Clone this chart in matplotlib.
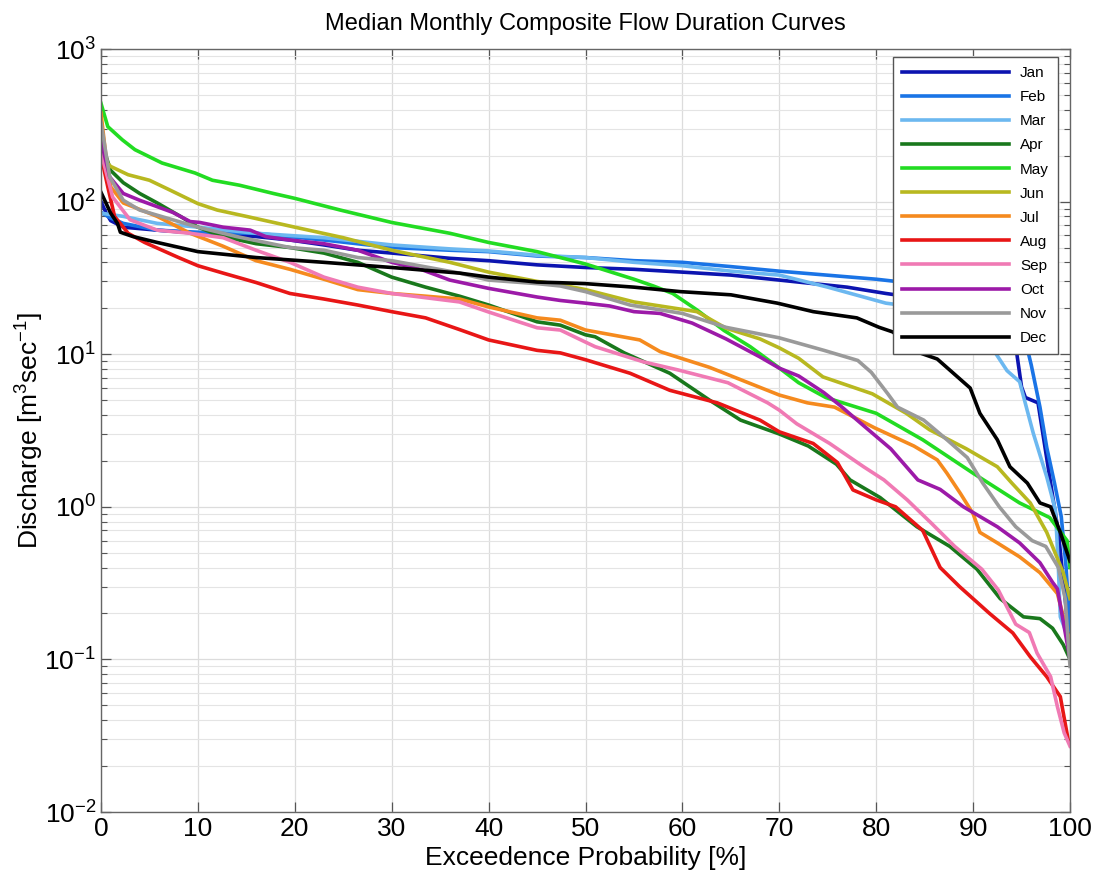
import matplotlib
matplotlib.use("Agg")
import matplotlib.pyplot as plt
from matplotlib.ticker import LogLocator, MultipleLocator, NullFormatter

plt.rcParams['font.family'] = ['Liberation Sans', 'DejaVu Sans']
plt.rcParams['mathtext.fontset'] = 'custom'
plt.rcParams['mathtext.rm'] = 'Liberation Sans'
plt.rcParams['mathtext.it'] = 'Liberation Sans'

# Exceedence probability [%] and median discharge [m3/s] for each month
jan_p = [0, 0.5, 1, 2.3, 5.8, 10, 16, 19.5, 23, 26.5, 30, 36, 40, 45, 50, 55, 60, 65, 70, 77, 81, 83, 94.5, 95, 95.4, 96.7, 97.9, 98.8, 99.5, 100]
jan_q = [100, 85, 75, 68, 65, 62, 59, 56, 52, 48, 46, 42.5, 41, 38.5, 37, 36, 34.5, 33, 30.6, 27.5, 25, 24, 10.2, 6.1, 5.2, 4.8, 1.57, 0.68, 0.25, 0.12]

feb_p = [0, 1, 2.3, 5.8, 10, 16, 23, 30, 36, 40, 45, 50, 55, 60, 65, 70, 80, 82, 90, 95.7, 96, 96.9, 97.6, 98.4, 99.1, 99.6, 100]
feb_q = [85, 78, 72, 65, 63, 62, 56, 50, 48, 47, 44, 43, 41, 40, 37.5, 35, 31, 30, 20, 10.2, 8.5, 4.5, 2.45, 1.43, 0.86, 0.4, 0.155]

mar_p = [0, 2.3, 5.8, 10, 16, 23, 30, 36, 40, 45, 50, 55, 60, 65, 70, 75, 81, 82.5, 92.3, 93.5, 94.8, 96.2, 97.6, 98.5, 98.8, 99, 100]
mar_q = [84, 80, 72, 68, 62, 58, 52, 49, 47.5, 44.5, 43, 40, 38, 35, 33, 27.5, 21.6, 21, 10.2, 7.8, 6.6, 3.05, 1.57, 0.95, 0.4, 0.19, 0.13]

apr_p = [0, 0.5, 1, 2.3, 4, 5.8, 8.2, 10, 12.6, 16, 19.5, 23, 26.5, 30, 33.5, 37, 40, 45, 47.4, 50, 51, 54, 58.7, 62.8, 66, 70, 73, 75.9, 77.3, 80.4, 84.2, 87.6, 90.4, 92.8, 95.2, 96.9, 98.2, 99.3, 100]
apr_q = [250, 200, 160, 133, 113, 98, 80, 68, 59, 53, 50, 46, 40, 32, 27.5, 24, 21, 16.3, 15.5, 13.4, 13, 10.2, 7.5, 5.0, 3.7, 3.0, 2.5, 1.9, 1.5, 1.15, 0.74, 0.55, 0.39, 0.25, 0.19, 0.185, 0.16, 0.125, 0.10]

may_p = [0, 0.7, 2.2, 3.5, 6.3, 9.7, 11.5, 14.3, 17.8, 20, 24.7, 30, 36, 40, 45, 50, 55, 57, 59, 61.5, 64.3, 67, 69.8, 72, 74.8, 80, 84.8, 90, 94.8, 97.9, 99.7, 100]
may_q = [440, 310, 254, 219, 179, 154, 138, 128, 113, 105, 88, 73, 62, 54, 47, 39, 31, 28, 25, 19.5, 14.3, 11.2, 8.3, 6.5, 5.2, 4.1, 2.75, 1.66, 1.06, 0.85, 0.6, 0.4]

jun_p = [0, 0.4, 1, 2.8, 5, 7, 10, 12, 15, 20, 25, 30, 36, 40, 45, 47.4, 50, 55, 61.5, 64.5, 68, 70, 72, 74.5, 79.6, 83.1, 85.5, 89.3, 92.5, 94, 95.9, 97.6, 99.3, 100]
jun_q = [300, 186, 170, 150, 138, 120, 97, 88, 80, 68, 58, 48, 40, 34.5, 30, 28.5, 26.5, 22, 19, 14.8, 12.6, 11, 9.4, 7.1, 5.5, 4.1, 3.2, 2.4, 1.83, 1.43, 1.06, 0.68, 0.37, 0.25]

jul_p = [0, 0.5, 1, 2.3, 5.8, 9.2, 12.6, 16, 19.5, 23, 26.5, 30, 33.5, 37, 40, 45, 47.4, 50, 55.6, 57.7, 62.8, 67.9, 70, 72.9, 75.7, 79.8, 83.9, 86.3, 87.3, 88.7, 90, 90.7, 92.5, 94.8, 96.9, 98.7, 100]
jul_q = [380, 200, 125, 98, 80, 62, 51, 41, 36, 31, 26.5, 25, 24, 23, 20.4, 17.3, 16.7, 14.4, 12.4, 10.4, 8.2, 6.1, 5.4, 4.8, 4.5, 3.3, 2.5, 2.03, 1.66, 1.22, 0.9, 0.68, 0.58, 0.47, 0.37, 0.27, 0.13]

aug_p = [0, 0.7, 1.4, 2.8, 4.5, 8, 10, 12.6, 16, 19.5, 23, 26.5, 30, 33.5, 37, 40, 45, 47.4, 50, 54.6, 58.7, 63.6, 68, 70, 73.5, 76, 77.6, 80, 82, 84.8, 86.6, 88.6, 91.7, 94.1, 95.9, 97.6, 99, 99.8, 100]
aug_q = [200, 125, 80, 62, 54, 43, 38, 34, 29.5, 25, 23, 21, 19, 17.3, 14.5, 12.4, 10.6, 10.2, 9.2, 7.5, 5.8, 4.8, 3.7, 3.1, 2.6, 1.95, 1.29, 1.11, 1.0, 0.7, 0.40, 0.30, 0.20, 0.149, 0.104, 0.077, 0.057, 0.030, 0.028]

sep_p = [0, 1.2, 3, 5.8, 9.2, 12.6, 16, 19.5, 23, 26.5, 30, 37, 40, 45, 47.4, 50, 51, 56, 59.5, 64.7, 68.8, 70, 71.8, 75.2, 78.7, 80.8, 83.2, 85.7, 88.1, 90.9, 92.6, 94.4, 95.8, 96.6, 98, 98.7, 99.4, 100]
sep_q = [210, 107, 76, 65, 62, 58, 48, 40, 32, 27.5, 25, 22, 18.9, 14.9, 14.4, 12, 11.2, 8.9, 7.9, 6.5, 4.8, 4.3, 3.5, 2.6, 1.83, 1.5, 1.11, 0.78, 0.55, 0.39, 0.285, 0.17, 0.15, 0.11, 0.077, 0.049, 0.033, 0.027]

oct_p = [0, 0.9, 2.3, 4, 7.4, 9.2, 10.2, 12.6, 15.4, 17, 19.5, 23, 26.5, 30, 33, 36, 40, 45, 47.4, 50, 52.5, 55, 57.7, 61, 64.5, 68, 70, 72, 74.6, 76.3, 78.7, 81.5, 84.3, 86.6, 89, 92.5, 94.8, 96.9, 98.2, 98.7, 100]
oct_q = [250, 145, 113, 102, 85, 74, 73, 68, 65, 59, 56, 53, 48, 40, 36, 30.6, 27, 23.7, 22.5, 21.6, 20.7, 19, 18.5, 16, 12.6, 9.6, 8.1, 7.2, 5.6, 4.6, 3.4, 2.4, 1.5, 1.3, 1.0, 0.74, 0.58, 0.43, 0.32, 0.29, 0.10]

nov_p = [0, 0.9, 2.3, 4, 7.4, 10, 14, 19.5, 23, 26.5, 30, 37, 40, 45, 47.4, 50, 54.6, 60, 64.5, 70, 74.6, 78.1, 79.5, 81.2, 82.2, 84.9, 87.3, 89.4, 91, 92.7, 94.4, 96.1, 97.5, 98.8, 99.5, 100]
nov_q = [330, 145, 102, 88, 76, 68, 59, 50, 48, 43, 41, 34, 30.6, 29, 28, 25.7, 21, 18.5, 15, 12.8, 10.6, 9.1, 7.6, 5.5, 4.5, 3.7, 2.75, 2.1, 1.43, 1.0, 0.74, 0.6, 0.55, 0.4, 0.25, 0.09]

dec_p = [0, 1, 1.7, 2, 3.3, 5.8, 10, 16, 23, 30, 37, 40, 45, 47.4, 50, 55, 59.8, 65, 69.8, 73.5, 78, 80.3, 81.7, 84.5, 86.3, 89.7, 90.7, 92.5, 93.8, 95.6, 96.9, 98, 99, 99.7, 100]
dec_q = [115, 84, 72, 63, 59, 54, 47, 43, 40, 37, 34, 32, 29.7, 29.4, 29, 27.5, 25.7, 24.5, 21.6, 19, 17.3, 15, 14, 10.2, 9.3, 6.0, 4.1, 2.75, 1.83, 1.43, 1.06, 1.0, 0.68, 0.5, 0.44]

months = ['Jan', 'Feb', 'Mar', 'Apr', 'May', 'Jun', 'Jul', 'Aug', 'Sep', 'Oct', 'Nov', 'Dec']
series = [(jan_p, jan_q), (feb_p, feb_q), (mar_p, mar_q), (apr_p, apr_q),
          (may_p, may_q), (jun_p, jun_q), (jul_p, jul_q), (aug_p, aug_q),
          (sep_p, sep_q), (oct_p, oct_q), (nov_p, nov_q), (dec_p, dec_q)]
colors = ['#0c14b0', '#1a74e6', '#6cb8f0', '#19781c', '#22dc22', '#b8b820',
          '#f58a1e', '#e81616', '#f07ab4', '#9c1aa8', '#9a9a9a', '#000000']

fig = plt.figure(figsize=(10.97, 8.86), dpi=100)
ax = fig.add_axes([101 / 1097, 1 - 812 / 886, 969 / 1097, 763 / 886])

for name, (p, q), c in zip(months, series, colors):
    ax.plot(p, q, color=c, lw=2.6, label=name, solid_joinstyle='round')

ax.set_yscale('log')
ax.set_xlim(0, 100)
ax.set_ylim(1e-2, 1e3)
ax.xaxis.set_major_locator(MultipleLocator(10))
ax.yaxis.set_major_locator(LogLocator(base=10, numticks=10))
ax.yaxis.set_minor_locator(LogLocator(base=10, subs=range(2, 10), numticks=20))
ax.yaxis.set_minor_formatter(NullFormatter())

ax.grid(True, which='major', color='#dcdcdc', lw=0.9)
ax.grid(True, which='minor', axis='y', color='#e4e4e4', lw=0.8)
ax.set_axisbelow(True)

ax.tick_params(which='both', direction='in', top=True, right=True, colors='#555555',
               labelcolor='black', labelsize=19)
ax.tick_params(which='major', length=7, width=0.9)
ax.tick_params(which='minor', length=4, width=0.8)
for s in ax.spines.values():
    s.set_color('#666666')
    s.set_linewidth(1.0)

ax.set_title('Median Monthly Composite Flow Duration Curves', fontsize=17, pad=14)
ax.set_xlabel('Exceedence Probability [%]', fontsize=19, labelpad=4)
ax.set_ylabel(r'Discharge [m$^{3}$sec$^{-1}$]', fontsize=19)
ax.yaxis.set_label_coords(-0.057, 0.5)

leg = ax.legend(loc='upper right', bbox_to_anchor=(1 - 12 / 969, 1 - 8 / 763),
                borderaxespad=0, fontsize=11, handlelength=7.0, handletextpad=0.7,
                labelspacing=0.66, framealpha=1, fancybox=False, edgecolor='#555555',
                borderpad=0.6)
leg.get_frame().set_linewidth(1.0)

fig.savefig('out.png', dpi=100)
